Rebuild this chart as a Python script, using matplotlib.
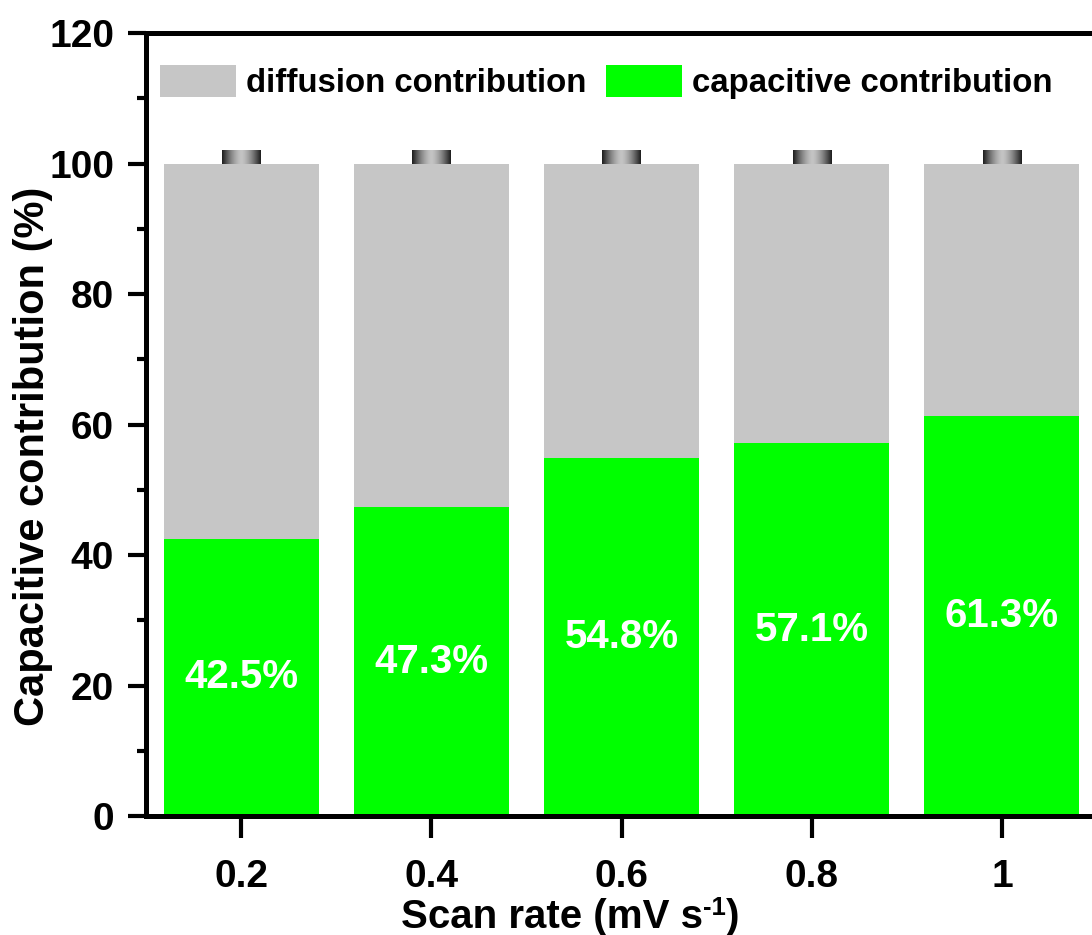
import matplotlib
matplotlib.use("Agg")
import matplotlib.pyplot as plt
import numpy as np
from matplotlib.patches import Patch

plt.rcParams['font.family'] = ['Liberation Sans', 'DejaVu Sans']
plt.rcParams['font.weight'] = 'bold'

# Scan rates (mV/s) and capacitive share (%) at each rate
scan_rate = [0.2, 0.4, 0.6, 0.8, 1.0]
capacitive = [42.5, 47.3, 54.8, 57.1, 61.3]
diffusion = [100 - c for c in capacitive]
tick_labels = ['0.2', '0.4', '0.6', '0.8', '1']

green = '#00FF00'
grey = '#C6C6C6'
bar_w = 0.163
W, H = 1092, 935

fig = plt.figure(figsize=(W / 100, H / 100), dpi=100)
ax = fig.add_axes([146 / W, 119 / H, 951 / W, 783 / H])

ax.bar(scan_rate, capacitive, width=bar_w, color=green, zorder=2)
ax.bar(scan_rate, diffusion, width=bar_w, bottom=capacitive, color=grey, zorder=2)

# small shaded caps sitting on top of each stacked bar
grad = np.abs(np.linspace(-1, 1, 64))
grad = 0.12 + 0.65 * (1 - grad ** 1.5)
grad = np.tile(grad, (4, 1))
for x, c, d in zip(scan_rate, capacitive, diffusion):
    top = c + d
    ax.imshow(grad, cmap='gray', vmin=0, vmax=1, aspect='auto',
              extent=(x - 0.02, x + 0.02, top, top + 2), zorder=3)

for x, c in zip(scan_rate, capacitive):
    ax.text(x, c / 2, f'{c}%', color='white', fontsize=29, fontweight='bold',
            ha='center', va='center', zorder=4)

ax.set_xlim(0.1, 1.1)
ax.set_ylim(0, 120)
ax.set_xticks(scan_rate)
ax.set_xticklabels(tick_labels)
ax.set_yticks(np.arange(0, 121, 20))
ax.set_yticks(np.arange(10, 120, 20), minor=True)
ax.tick_params(axis='x', which='major', direction='out', length=16,
               width=3, labelsize=28, pad=15)
ax.tick_params(axis='y', which='major', direction='out', length=13,
               width=3, labelsize=28, pad=10)
ax.tick_params(axis='y', which='minor', direction='out', length=6.5, width=3)
for side in ['left', 'bottom', 'top', 'right']:
    ax.spines[side].set_linewidth(3.6)

fig.text(33 / W, 1 - 456 / H, 'Capacitive contribution (%)', rotation=90,
         fontsize=30, fontweight='bold', ha='center', va='center')

# x label built from pieces so the superscript keeps a plain hyphen
renderer = fig.canvas.get_renderer()
base_y = 1 - 928 / H
parts = [('Scan rate (mV s', 29, 0), ('-1', 18.5, 13), (')', 29, 0)]
texts = []
x_px = 0
for s, size, rise in parts:
    t = fig.text(x_px / W, base_y + rise / H, s, fontsize=size,
                 fontweight='bold', ha='left', va='baseline')
    x_px = t.get_window_extent(renderer).x1
    texts.append(t)
shift = 570 - x_px / 2
for t in texts:
    px, py = t.get_position()
    t.set_position((px + shift / W, py))

handles = [Patch(facecolor=grey, label='diffusion contribution'),
           Patch(facecolor=green, label='capacitive contribution')]
ax.legend(handles=handles, loc='center left', bbox_to_anchor=(0.0147, 0.9374),
          ncol=2, frameon=False, prop={'size': 23.8, 'weight': 'bold'},
          handlelength=2.3, handleheight=1.09, handletextpad=0.3,
          columnspacing=0.6, borderaxespad=0, borderpad=0)

fig.savefig('out.png', dpi=100)
